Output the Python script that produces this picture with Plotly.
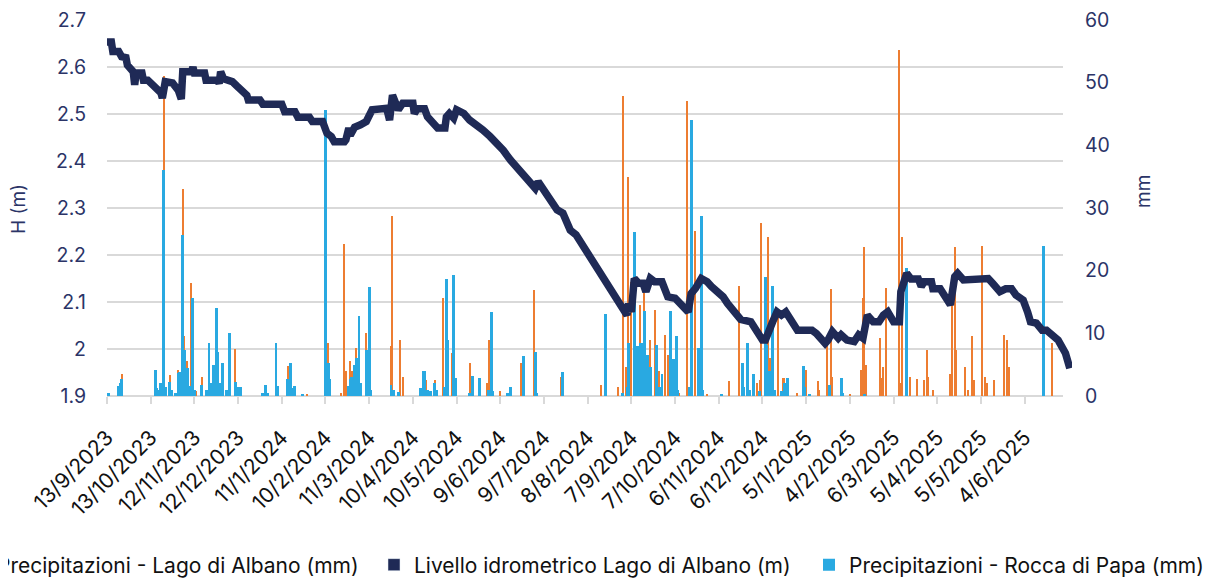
import pandas as pd
import plotly.graph_objects as go

START = pd.Timestamp("2023-09-13")
END_DAY = 662.5

# x-axis tick dates and their labels (every 30 days, as in the reference)
tick_dates = ["2023-09-13", "2023-10-13", "2023-11-12", "2023-12-12", "2024-01-11", "2024-02-10",
              "2024-03-11", "2024-04-10", "2024-05-10", "2024-06-09", "2024-07-09", "2024-08-08",
              "2024-09-07", "2024-10-07", "2024-11-06", "2024-12-06", "2025-01-05", "2025-02-04",
              "2025-03-06", "2025-04-05", "2025-05-05", "2025-06-04"]
tick_labels = ["13/9/2023", "13/10/2023", "12/11/2023", "12/12/2023", "11/1/2024", "10/2/2024",
               "11/3/2024", "10/4/2024", "10/5/2024", "9/6/2024", "9/7/2024", "8/8/2024",
               "7/9/2024", "7/10/2024", "6/11/2024", "6/12/2024", "5/1/2025", "4/2/2025",
               "6/3/2025", "5/4/2025", "5/5/2025", "4/6/2025"]

# Livello idrometrico Lago di Albano (m): day offset from START, level
level_day = [0, 3, 4, 8, 10, 13, 14, 16, 18, 19, 20, 24, 25, 28, 32, 34, 37, 38, 40, 45,
             49, 51, 52, 58, 59, 60, 67, 68, 76, 77, 78, 80, 86, 89, 91, 94, 96, 97, 105, 107,
             120, 122, 129, 131, 139, 141, 148, 151, 154, 156, 163, 164, 166, 167, 170, 174, 178, 182, 192, 194,
             196, 200, 203, 210, 211, 213, 218, 220, 224, 227, 232, 233, 235, 238, 240, 245, 249, 254, 258, 263,
             268, 272, 277, 281, 286, 290, 294, 296, 301, 305, 309, 313, 318, 322, 328, 335, 341, 346, 352, 357,
             358, 360, 362, 365, 368, 370, 373, 376, 381, 383, 385, 390, 393, 399, 401, 404, 408, 412, 415, 418,
             423, 426, 431, 435, 442, 446, 450, 452, 455, 457, 460, 463, 466, 471, 474, 484, 487, 493, 495, 498,
             502, 504, 508, 513, 516, 519, 522, 526, 530, 533, 536, 540, 544, 545, 548, 549, 552, 557, 559, 561,
             566, 567, 572, 575, 579, 582, 584, 588, 598, 603, 605, 608, 613, 617, 621, 624, 629, 632, 634, 638,
             642, 645, 648, 653, 658, 661]
level_m = [2.653, 2.653, 2.633, 2.633, 2.622, 2.620, 2.604, 2.594, 2.590, 2.562, 2.587, 2.587, 2.572, 2.572, 2.560, 2.551, 2.545, 2.534, 2.569, 2.566,
           2.550, 2.532, 2.590, 2.590, 2.600, 2.587, 2.587, 2.572, 2.572, 2.565, 2.590, 2.575, 2.569, 2.560, 2.555, 2.547, 2.540, 2.530, 2.530, 2.521,
           2.521, 2.505, 2.505, 2.493, 2.493, 2.484, 2.484, 2.459, 2.452, 2.441, 2.441, 2.445, 2.470, 2.455, 2.472, 2.477, 2.484, 2.509, 2.512, 2.487,
           2.540, 2.509, 2.523, 2.523, 2.501, 2.511, 2.511, 2.494, 2.480, 2.470, 2.470, 2.494, 2.501, 2.491, 2.509, 2.501, 2.487, 2.477, 2.466, 2.452,
           2.438, 2.423, 2.402, 2.388, 2.370, 2.356, 2.342, 2.356, 2.335, 2.317, 2.296, 2.289, 2.253, 2.243, 2.214, 2.182, 2.154, 2.126, 2.097, 2.072,
           2.097, 2.079, 2.150, 2.140, 2.140, 2.122, 2.150, 2.143, 2.143, 2.129, 2.111, 2.108, 2.097, 2.079, 2.118, 2.129, 2.150, 2.143, 2.133, 2.126,
           2.111, 2.097, 2.079, 2.063, 2.058, 2.040, 2.019, 2.019, 2.047, 2.058, 2.079, 2.072, 2.079, 2.051, 2.040, 2.040, 2.033, 2.012, 2.019, 2.037,
           2.023, 2.030, 2.019, 2.016, 2.030, 2.023, 2.072, 2.058, 2.058, 2.072, 2.079, 2.058, 2.058, 2.122, 2.154, 2.161, 2.149, 2.149, 2.133, 2.143,
           2.143, 2.128, 2.128, 2.115, 2.094, 2.154, 2.161, 2.147, 2.147, 2.150, 2.150, 2.140, 2.122, 2.128, 2.128, 2.115, 2.104, 2.079, 2.058, 2.055,
           2.040, 2.040, 2.033, 2.019, 1.991, 1.959]

# Precipitazioni - Lago di Albano (mm)
albano_day = [10, 39, 43, 49, 52, 53, 55, 58, 61, 65, 79, 88, 124, 137, 152, 161, 163, 164, 167, 168,
              171, 178, 195, 196, 201, 203, 219, 225, 231, 237, 238, 249, 261, 262, 270, 284, 293, 312, 339, 351,
              354, 356, 358, 360, 366, 369, 373, 376, 379, 383, 385, 393, 398, 404, 412, 427, 434, 446, 448, 449,
              454, 455, 461, 464, 465, 474, 480, 488, 489, 494, 497, 498, 510, 518, 519, 520, 521, 531, 532, 533,
              535, 544, 545, 546, 551, 556, 561, 563, 564, 567, 579, 580, 582, 583, 589, 591, 594, 595, 601, 603,
              604, 609, 616, 618, 619, 649]
albano_mm = [3.5, 51.0, 3.3, 4.1, 33.0, 9.5, 5.6, 18.0, 0.8, 3.0, 4.0, 7.5, 4.8, 0.3, 8.5, 0.5, 24.3, 4.0, 5.6, 4.0,
             7.7, 10.0, 8.0, 28.8, 9.0, 3.0, 2.6, 2.5, 15.6, 6.9, 9.3, 5.2, 2.0, 9.0, 0.8, 5.2, 16.9, 3.0, 1.8, 1.4,
             47.9, 4.6, 35.0, 18.2, 14.5, 16.4, 9.0, 13.7, 4.0, 9.7, 6.6, 0.5, 47.1, 26.3, 0.3, 2.4, 17.6, 2.0, 2.5, 27.6,
             25.3, 6.0, 13.2, 2.9, 2.9, 0.5, 4.2, 2.4, 1.0, 9.5, 17.0, 3.0, 0.3, 4.2, 15.6, 23.7, 5.0, 9.2, 2.8, 4.7,
             17.3, 55.2, 2.0, 25.3, 3.0, 2.7, 2.5, 7.4, 3.0, 1.0, 3.5, 19.2, 23.7, 7.4, 4.6, 1.0, 9.6, 2.5, 23.9, 3.1,
             2.0, 2.6, 9.7, 9.0, 4.6, 8.4]

# Precipitazioni - Rocca di Papa (mm)
rocca_day = [1, 8, 9, 10, 33, 34, 35, 37, 39, 40, 43, 44, 47, 49, 50, 52, 53, 54, 55, 57,
             59, 60, 65, 68, 70, 71, 73, 74, 75, 76, 77, 79, 82, 84, 88, 90, 92, 107, 109, 110,
             116, 117, 124, 126, 127, 129, 134, 150, 152, 153, 166, 167, 168, 170, 171, 173, 174, 178, 180, 181,
             195, 196, 197, 200, 215, 217, 218, 220, 222, 225, 226, 232, 233, 234, 238, 239, 249, 251, 256, 262,
             264, 265, 275, 277, 286, 294, 295, 313, 342, 354, 357, 358, 362, 364, 366, 367, 369, 371, 373, 377,
             379, 381, 387, 389, 391, 392, 400, 401, 406, 408, 409, 422, 436, 437, 440, 441, 444, 448, 452, 453,
             455, 457, 458, 463, 465, 467, 478, 479, 482, 496, 504, 505, 520, 549, 643]
rocca_mm = [0.5, 1.6, 2.0, 2.7, 4.1, 1.2, 1.0, 2.0, 36.0, 1.5, 2.3, 1.0, 0.5, 3.6, 3.8, 25.7, 7.3, 2.0, 4.4, 1.6,
            15.7, 1.0, 1.7, 1.0, 8.5, 2.0, 5.0, 2.5, 14.0, 7.0, 2.0, 5.3, 1.0, 10.0, 2.3, 1.5, 1.5, 0.4, 1.7, 0.5,
            8.5, 1.6, 2.7, 5.3, 1.2, 1.6, 0.3, 45.7, 5.3, 2.7, 1.6, 2.7, 3.0, 5.0, 6.0, 12.8, 2.0, 7.4, 17.4, 1.0,
            1.8, 0.8, 1.0, 0.6, 1.3, 4.0, 4.0, 1.0, 0.8, 2.0, 1.0, 1.5, 18.6, 9.0, 19.3, 2.8, 0.5, 3.2, 2.9, 1.0,
            13.4, 0.8, 0.5, 1.5, 6.4, 7.0, 0.5, 3.8, 13.1, 0.4, 1.5, 8.4, 26.2, 8.0, 8.5, 8.5, 13.5, 6.5, 4.6, 8.2,
            1.5, 3.5, 13.5, 5.9, 9.6, 1.0, 1.5, 44.0, 7.7, 28.7, 1.0, 0.3, 5.3, 1.5, 8.5, 1.0, 3.5, 0.8, 19.0, 8.2,
            4.0, 17.6, 1.0, 0.8, 2.0, 2.8, 4.8, 1.5, 0.3, 1.8, 2.8, 0.5, 0.2, 20.4, 23.9]

h_ticks = [1.9, 2.0, 2.1, 2.2, 2.3, 2.4, 2.5, 2.6, 2.7]
h_ticktext = ["1.9", "2", "2.1", "2.2", "2.3", "2.4", "2.5", "2.6", "2.7"]
h_grid = [2.0, 2.1, 2.2, 2.3, 2.4, 2.5, 2.6]
mm_ticks = [0, 10, 20, 30, 40, 50, 60]

assert len(level_day) == len(level_m)
assert len(albano_day) == len(albano_mm)
assert len(rocca_day) == len(rocca_mm)
assert len(tick_dates) == len(tick_labels)


def to_dates(days):
    return [START + pd.Timedelta(days=d) for d in days]


NAVY = "#1F2A56"
ORANGE = "#ED7D31"
BLUE = "#29A9E1"
AXIS_TXT = "#2B3467"
GRID = "#D9D9D9"
FONT = "Inter"
DAY_MS = 86400000

# the page body has an 8px margin: work in page pixels and shift by it
OFF = 8
W, H = 1221 - OFF, 579 - OFF
PL, PR, PT, PB = 107 - OFF, 1072 - OFF, 20 - OFF, 396 - OFF
PW, PH = PR - PL, PB - PT


def px_x(page_x):
    return (page_x - OFF - PL) / PW


def px_y(page_y):
    return (PB - (page_y - OFF)) / PH


fig = go.Figure()
fig.add_trace(go.Bar(
    x=to_dates(albano_day), y=albano_mm, name="Precipitazioni - Lago di Albano (mm)",
    marker=dict(color=ORANGE, line=dict(width=0)), width=0.75 * DAY_MS,
    yaxis="y", legend="legend"))
fig.add_trace(go.Bar(
    x=to_dates(rocca_day), y=rocca_mm, name="Precipitazioni - Rocca di Papa (mm)",
    marker=dict(color=BLUE, line=dict(width=0)), width=2.0 * DAY_MS,
    yaxis="y", legend="legend3"))
fig.add_trace(go.Scatter(
    x=to_dates(level_day), y=level_m, mode="lines", name="Livello idrometrico Lago di Albano (m)",
    line=dict(color=NAVY, width=7.5), yaxis="y2", showlegend=False))
# legend entry (square swatch) for the level series
fig.add_trace(go.Bar(
    x=[None], y=[None], name="Livello idrometrico Lago di Albano (m)",
    marker=dict(color=NAVY), yaxis="y", legend="legend2"))

grid_end = px_x(1063)

shapes = []
for g in h_grid:
    shapes.append(dict(type="line", xref="paper", yref="y2", x0=0, x1=grid_end, y0=g, y1=g,
                       line=dict(color=GRID, width=2), layer="below"))
shapes.append(dict(type="line", xref="paper", yref="paper", x0=0, x1=grid_end, y0=0, y1=0,
                   line=dict(color=GRID, width=2), layer="below"))

leg_common = dict(orientation="h", yanchor="middle", y=px_y(565), yref="paper", xref="paper",
                  font=dict(family=FONT, size=21, color="#111111"), bgcolor="rgba(0,0,0,0)",
                  itemclick=False)

fig.update_layout(
    width=W, height=H,
    margin=dict(l=PL, r=W - PR, t=PT, b=H - PB, autoexpand=False),
    paper_bgcolor="white", plot_bgcolor="white",
    barmode="overlay", bargap=0,
    font=dict(family=FONT, color=AXIS_TXT),
    xaxis=dict(
        type="date", range=[START, START + pd.Timedelta(days=END_DAY)],
        tickmode="array", tickvals=tick_dates, ticktext=tick_labels,
        tickangle=-45, tickfont=dict(family=FONT, size=21, color="#111111"),
        ticks="outside", ticklen=7, tickwidth=2, tickcolor=GRID, ticklabelstandoff=13,
        ticklabeloverflow="allow",
        showgrid=False, showline=False, zeroline=False),
    yaxis=dict(
        range=[0, 60], tickvals=mm_ticks, side="right", showgrid=False, zeroline=False,
        tickfont=dict(family=FONT, size=19.5, color=AXIS_TXT), ticklabelstandoff=12,
        ticklabeloverflow="allow"),
    yaxis2=dict(
        range=[1.9, 2.7], tickvals=h_ticks, ticktext=h_ticktext, side="left", overlaying="y",
        showgrid=False, zeroline=False,
        tickfont=dict(family=FONT, size=19.5, color=AXIS_TXT), ticklabelstandoff=20,
        ticklabeloverflow="allow"),
    shapes=shapes,
    legend=dict(leg_common, x=px_x(364), xanchor="right"),
    legend2=dict(leg_common, x=px_x(374), xanchor="left"),
    legend3=dict(leg_common, x=px_x(809), xanchor="left"),
    annotations=[
        dict(text="H (m)", xref="paper", yref="paper", x=px_x(18), y=px_y(209), textangle=-90,
             showarrow=False, xanchor="center", yanchor="middle",
             font=dict(family=FONT, size=19, color=AXIS_TXT)),
        dict(text="mm", xref="paper", yref="paper", x=px_x(1143), y=px_y(192), textangle=-90,
             showarrow=False, xanchor="center", yanchor="middle",
             font=dict(family=FONT, size=19, color=AXIS_TXT)),
    ],
)

fig.write_html("out.html")
